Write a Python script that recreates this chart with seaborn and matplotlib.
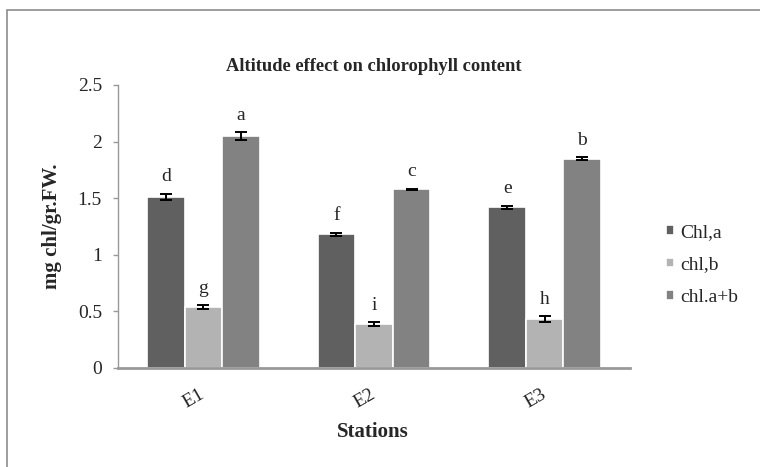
import pandas as pd
import numpy as np
import matplotlib
matplotlib.use("Agg")
import matplotlib.pyplot as plt
import seaborn as sns
from matplotlib.patches import Rectangle

# data
stations = ["E1", "E2", "E3"]
series = ["Chl,a", "chl,b", "chl.a+b"]
chl_a = [1.51, 1.18, 1.42]
chl_b = [0.54, 0.39, 0.43]
chl_ab = [2.05, 1.58, 1.85]
err_a = [0.03, 0.015, 0.015]
err_b = [0.015, 0.015, 0.025]
err_ab = [0.035, 0.005, 0.015]
letters_a = ["d", "f", "e"]
letters_b = ["g", "i", "h"]
letters_ab = ["a", "c", "b"]

df = pd.DataFrame({
    "Station": stations * 3,
    "Series": [s for s in series for _ in stations],
    "Value": chl_a + chl_b + chl_ab,
})
errs = [err_a, err_b, err_ab]
letters = [letters_a, letters_b, letters_ab]
colors = ["#606060", "#b3b3b3", "#828282"]

sns.set_style("white")
plt.rcParams['font.family'] = ['Liberation Serif', 'DejaVu Serif']

fig = plt.figure(figsize=(7.6, 4.67), dpi=100)
ax = fig.add_axes([0.1553, 0.212, 0.6737, 0.606])

sns.barplot(data=df, x="Station", y="Value", hue="Series", palette=colors,
            width=0.66, edgecolor="white", linewidth=1.2, errorbar=None,
            saturation=1, ax=ax)

# error bars and significance letters
for cont, e, lab in zip(ax.containers, errs, letters):
    xs = [p.get_x() + p.get_width() / 2 for p in cont.patches]
    ys = [p.get_height() for p in cont.patches]
    ax.errorbar(xs, ys, yerr=e, fmt="none", ecolor="black", elinewidth=1.4,
                capsize=4, capthick=1.4)
    for x, y, ee, t in zip(xs, ys, e, lab):
        ax.annotate(t, (x, y + ee), xytext=(0, 6), textcoords="offset points",
                    ha="center", va="bottom", fontsize=14)

ax.set_ylim(0, 2.5)
ax.set_yticks([0, 0.5, 1, 1.5, 2, 2.5])
ax.set_yticklabels(["0", "0.5", "1", "1.5", "2", "2.5"])
ax.set_xlim(-0.5, 2.5)
ax.tick_params(axis="y", labelsize=14, length=3.6, color="#999999", width=1,
               direction="out", left=True, pad=8)
ax.tick_params(axis="x", labelsize=14, length=0, pad=18)
for lbl in ax.get_xticklabels():
    lbl.set_rotation(30)
    lbl.set_ha("right")
    lbl.set_va("center")
    lbl.set_rotation_mode("anchor")

for s in ["top", "right"]:
    ax.spines[s].set_visible(False)
ax.spines["left"].set_color("#999999")
ax.spines["left"].set_linewidth(1)
ax.spines["bottom"].set_color("#999999")
ax.spines["bottom"].set_linewidth(2)

ax.set_xlabel("Stations", fontsize=15, fontweight="bold")
ax.xaxis.set_label_coords(0.498, -0.19)
ax.set_ylabel("mg chl/gr.FW.", fontsize=15, fontweight="bold", va="center")
ax.yaxis.set_label_coords(-0.128, 0.5)
ax.set_title("Altitude effect on chlorophyll content", fontsize=13.3,
             fontweight="bold", pad=10)

ax.legend(loc="center left", bbox_to_anchor=(1.036, 0.364), frameon=False,
          fontsize=14, handlelength=0.4, handleheight=0.4,
          handletextpad=0.35, labelspacing=0.8)

# outer chart border (only top and left edges fall inside the picture)
fig.patches.append(Rectangle((7 / 760, -0.1), 1.2, 1.1 - 10 / 467,
                             transform=fig.transFigure, fill=False,
                             edgecolor="#8c8c8c", linewidth=1.2))

fig.savefig("out.png", dpi=100)
